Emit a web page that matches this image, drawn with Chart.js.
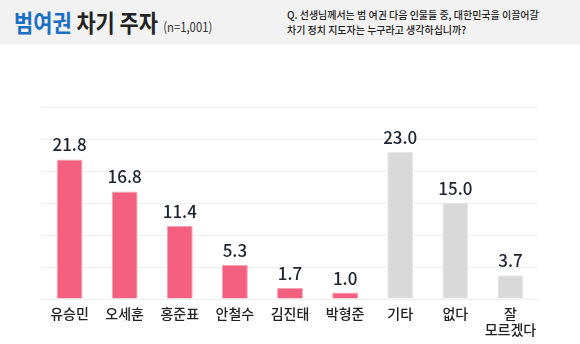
<!DOCTYPE html>
<html><head><meta charset="utf-8">
<script src="https://cdn.jsdelivr.net/npm/chart.js@4/dist/chart.umd.min.js"></script>
<style>
html,body{margin:0;padding:0;background:#fff;width:580px;height:344px;overflow:hidden;font-family:"Noto Sans CJK KR","Noto Sans",sans-serif;}
#hdr{position:absolute;left:0;top:0;width:580px;height:45px;background:#f2f2f2;}
#t1{position:absolute;left:14px;top:4px;font-size:24px;font-weight:700;color:#222;white-space:nowrap;transform:scaleX(0.87);transform-origin:0 0;}
#t1 .b{color:#1a6fc4;}
#t1 .n{font-size:13px;font-weight:400;color:#333;margin-left:6px;}
#q{position:absolute;left:287px;top:7px;font-size:10.5px;font-weight:500;line-height:15px;color:#222;white-space:nowrap;transform:scaleX(0.95);transform-origin:0 0;}
#wrap{position:absolute;left:0;top:45px;width:580px;height:299px;}
</style></head>
<body>
<div id="hdr">
<div id="t1"><span class="b">범여권</span> 차기 주자<span class="n">(n=1,001)</span></div>
<div id="q">Q. 선생님께서는 범 여권 다음 인물들 중, 대한민국을 이끌어갈<br>차기 정치 지도자는 누구라고 생각하십니까?</div>
</div>
<div id="wrap"><canvas id="c" width="580" height="299"></canvas></div>
<script>
const categories = ["유승민","오세훈","홍준표","안철수","김진태","박형준","기타","없다",["잘","모르겠다"]];
const values = [21.8,16.8,11.4,5.3,1.7,1.0,23.0,15.0,3.7];
const barColors = ["#f3607f","#f3607f","#f3607f","#f3607f","#f3607f","#f3607f","#d9d9d9","#d9d9d9","#d9d9d9"];
const borderColors = ["#f7a3b5","#f7a3b5","#f7a3b5","#f7a3b5","#f7a3b5","#f7a3b5","#e6e6e6","#e6e6e6","#e6e6e6"];

const valueLabels = {
  id:'valueLabels',
  afterDatasetsDraw(chart){
    const ctx = chart.ctx;
    const meta = chart.getDatasetMeta(0);
    ctx.save();
    ctx.font = '500 17px "Noto Sans CJK KR", sans-serif';
    ctx.fillStyle = '#1e2430';
    ctx.textAlign = 'center';
    ctx.textBaseline = 'alphabetic';
    meta.data.forEach((el,i)=>{
      ctx.fillText(values[i].toFixed(1), el.x, el.y - 8);
    });
    ctx.restore();
  }
};

new Chart(document.getElementById('c'),{
  type:'bar',
  data:{labels:categories,datasets:[{data:values,backgroundColor:barColors,borderColor:borderColors,borderWidth:1,categoryPercentage:0.94,barPercentage:0.5}]},
  options:{
    responsive:false,animation:false,
    layout:{padding:{left:42,right:42,top:62,bottom:0}},
    plugins:{legend:{display:false},tooltip:{enabled:false}},
    scales:{
      x:{grid:{display:false,drawTicks:false},border:{color:'#eeeeee'},
         afterFit(axis){axis.height = 45;},
         ticks:{color:'#222',font:{family:'"Noto Sans CJK KR", sans-serif',size:14,weight:'500',lineHeight:1.15},padding:7,maxRotation:0,autoSkip:false}},
      y:{min:0,max:30,ticks:{display:false,stepSize:5},grid:{color:'#f0f0f0',drawTicks:false},border:{display:false}}
    }
  },
  plugins:[valueLabels]
});
</script>
</body></html>
